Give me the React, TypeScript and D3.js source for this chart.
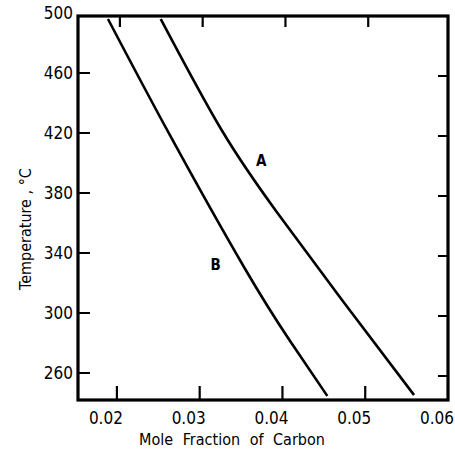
import React from "react";
import * as d3 from "d3";

const xTicks = [0.02, 0.03, 0.04, 0.05, 0.06];
const xTickLabels = ["0.02", "0.03", "0.04", "0.05", "0.06"];
const yTicks = [260, 300, 340, 380, 420, 460, 500];
const yTickLabels = ["260", "300", "340", "380", "420", "460", "500"];

const curveAx = [0.0253, 0.03265, 0.0394, 0.04747, 0.0559];
const curveAy = [496, 422, 366.7, 306.7, 245.3];
const curveBx = [0.01892, 0.02639, 0.03542, 0.04084, 0.04542];
const curveBy = [496, 418.7, 330, 282, 244.7];

const seriesLabels = ["A", "B"];
const labelPos = [
  [0.03745, 402],
  [0.03193, 333],
];

const W = 455;
const H = 449;
const L = 78, R = 448, T = 16, B = 400;
const FONT = "'DejaVu Sans Condensed', 'DejaVu Sans', sans-serif";

export default function App() {
  const x = d3.scaleLinear().domain([0.0153, 0.06]).range([L, R]);
  const y = d3.scaleLinear().domain([242, 498]).range([B, T]);
  const line = d3
    .line<[number, number]>()
    .x((d) => x(d[0]))
    .y((d) => y(d[1]))
    .curve(d3.curveNatural);
  const a: [number, number][] = curveAx.map((v, i) => [v, curveAy[i]]);
  const b: [number, number][] = curveBx.map((v, i) => [v, curveBy[i]]);

  return (
    <svg
      width={W}
      height={H}
      style={{ position: "absolute", left: 0, top: 0, background: "#fff" }}
    >
      <g fill="none" stroke="#000" strokeLinecap="butt">
        <path d={line(a) || ""} strokeWidth={2.6} />
        <path d={line(b) || ""} strokeWidth={2.6} />
        {xTicks.slice(0, 4).map((t) => (
          <g key={"xt" + t}>
            <line x1={x(t)} x2={x(t)} y1={B} y2={B - 14} strokeWidth={2.2} />
            <line x1={x(t) + 3} x2={x(t) + 3} y1={T} y2={T + 11} strokeWidth={2.2} />
          </g>
        ))}
        {yTicks.slice(0, 6).map((t) => (
          <g key={"yt" + t}>
            <line x1={L} x2={L + 12} y1={y(t)} y2={y(t)} strokeWidth={2} />
            <line x1={R} x2={R - 10} y1={y(t) + 3} y2={y(t) + 3} strokeWidth={2} />
          </g>
        ))}
        <rect x={L} y={T} width={R - L} height={B - T} strokeWidth={3.2} />
      </g>
      <g fontFamily={FONT} fontSize={17} fill="#000">
        {xTicks.map((t, i) => (
          <text key={"xl" + t} x={x(t) - 11} y={424} textAnchor="middle">
            {xTickLabels[i]}
          </text>
        ))}
        {yTicks.map((t, i) => (
          <text key={"yl" + t} x={73} y={y(t) + 6} textAnchor="end">
            {yTickLabels[i]}
          </text>
        ))}
        <text x={232} y={445} textAnchor="middle" wordSpacing={5} fontSize={16}>
          Mole Fraction of Carbon
        </text>
        <text
          transform="translate(31,229) rotate(-90)"
          textAnchor="middle"
          fontSize={16}
        >
          Temperature , °C
        </text>
        {seriesLabels.map((s, i) => (
          <text
            key={s}
            x={x(labelPos[i][0])}
            y={y(labelPos[i][1]) + 6}
            textAnchor="middle"
            fontSize={15}
            fontWeight="bold"
          >
            {s}
          </text>
        ))}
      </g>
    </svg>
  );
}
